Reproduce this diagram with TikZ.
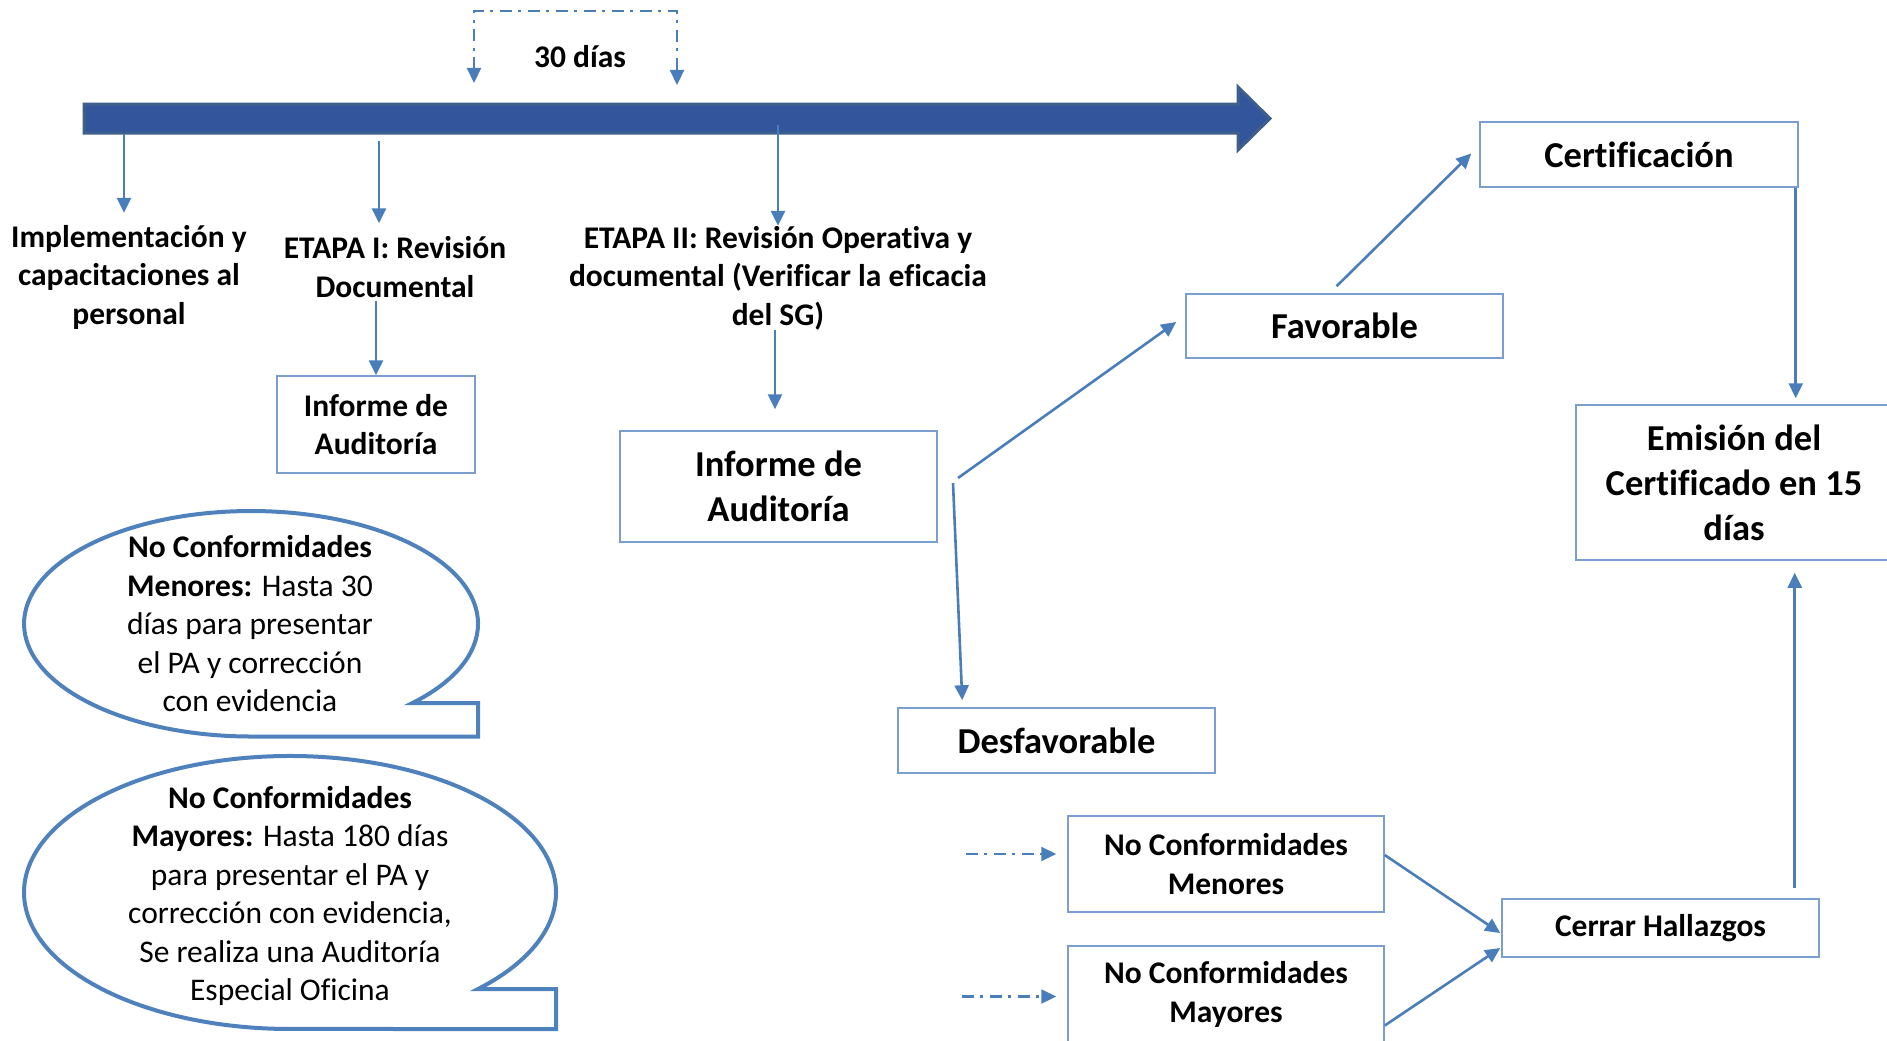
\documentclass[tikz,border=0pt]{standalone}
\usepackage{fontspec}
\setmainfont{Carlito}[Ligatures=CommonOff]
\usetikzlibrary{arrows.meta,positioning}
\definecolor{lineblue}{HTML}{4A7EBB}
\definecolor{boxblue}{HTML}{7A9FCF}
\definecolor{bubblue}{HTML}{4F81BD}
\definecolor{barfill}{HTML}{32559C}
\definecolor{barline}{HTML}{3E5F8A}
\newcommand{\txtS}{\fontsize{31.5}{38.5}\selectfont}
\newcommand{\txtL}{\fontsize{36.5}{45}\selectfont}

\begin{document}
\begin{tikzpicture}[x=1pt,y=-1pt,
	tip/.style={-{Triangle[width=14pt,length=15pt]}},
	conn/.style={draw=lineblue,line width=2.6pt,tip},
	dconn/.style={draw=lineblue,line width=2.2pt,dash pattern=on 12pt off 6pt on 3pt off 7pt},
	lbl/.style={font=\bfseries\txtS,align=center,inner sep=0pt},
	box/.style={draw=boxblue,line width=1.5pt,fill=white,align=center,inner sep=0pt,minimum width=317pt},
	bubble/.style={draw=bubblue,line width=4pt,fill=white},
	bubtxt/.style={font=\txtS,align=center,inner sep=0pt}]
				\useasboundingbox (0,0) rectangle (1887,1041);
				\filldraw[fill=barfill,draw=barline,line width=3pt] (84,104) -- (1238,104) -- (1238,87) -- (1270,118.5) -- (1238,150) -- (1238,133) -- (84,133) -- cycle;
				\coordinate (t1) at (124,134);
				\coordinate (t2) at (379,141);
				\coordinate (t3) at (778,125);
				\coordinate (d1) at (474,83);
				\coordinate (d2) at (677,85);
				\coordinate (fork) at (955,481);
				\draw[dconn,{Triangle[width=14pt,length=15pt]}-{Triangle[width=14pt,length=15pt]}] (d1) -- ++(0,-72) -| (d2);
				\node[lbl] (dias) at (580,56.5) {30 días};
				\node[lbl] (impl) at (129,277) {Implementación y\\capacitaciones al\\personal};
				\node[lbl] (etapa1) at (395,267) {ETAPA I: Revisión\\Documental};
				\node[lbl] (etapa2) at (778,278) {ETAPA II: Revisión Operativa y\\documental (Verificar la eficacia\\del SG)};
				\node[box,minimum width=198pt,minimum height=97pt,font=\bfseries\txtS] (inf1) at (376,424.5) {Informe de\\Auditoría};
				\node[box,minimum height=111pt,font=\bfseries\txtL] (inf2) at (778.5,486.5) {Informe de\\Auditoría};
				\node[box,minimum height=64pt,font=\bfseries\txtL] (fav) at (1344.5,326) {Favorable};
				\node[box,minimum height=65pt,font=\bfseries\txtL] (desf) at (1056.5,740.5) {Desfavorable};
				\node[box,minimum width=318pt,minimum height=65pt,font=\bfseries\txtL] (cert) at (1639,154.5) {Certificación};
				\node[box,minimum width=316pt,minimum height=155pt,font=\bfseries\txtL] (emis) at (1734,482.5) {Emisión del\\Certificado en 15\\días};
				\node[box,minimum width=316pt,minimum height=96pt,font=\bfseries\txtS] (ncmen) at (1226,864) {No Conformidades\\Menores};
				\node[box,minimum width=316pt,minimum height=97pt,font=\bfseries\txtS] (ncmay) at (1226,994.5) {No Conformidades\\Mayores};
				\node[box,minimum height=58pt,font=\bfseries\txtS] (cerrar) at (1660.5,928) {Cerrar Hallazgos};
				\draw[bubble] (412.1,703.2) arc[start angle=-44.8,end angle=270,x radius=227pt,y radius=112.75pt] -- (478,736.5) -- (478,703.2) -- cycle;
				\draw[bubble] (478.1,989) arc[start angle=-45,end angle=270,x radius=266pt,y radius=136.5pt] -- (556,1029) -- (556,989) -- cycle;
				\node[bubtxt] (nc1) at (250,624) {\textbf{No Conformidades}\\\textbf{Menores:} Hasta 30\\días para presentar\\el PA y corrección\\con evidencia};
				\node[bubtxt] (nc2) at (290,896) {\textbf{No Conformidades}\\\textbf{Mayores:} Hasta 180 días\\para presentar el PA y\\corrección con evidencia,\\Se realiza una Auditoría\\Especial Oficina};
				\draw[conn,shorten >=12pt] (t1) -- (t1 |- impl.north);
				\draw[conn,shorten >=13pt] (t2) -- (t2 |- etapa1.north);
				\draw[conn,shorten <=3pt] (etapa1.south -| inf1.north) -- (inf1.north);
				\draw[conn] (t3) -- (t3 |- etapa2.north);
				\draw[conn,shorten >=21pt] ([xshift=-3pt]etapa2.south) -- ([xshift=-3pt]etapa2.south |- inf2.north);
				\draw[conn] (fork) ++(3,-3) -- ([xshift=-9pt,yshift=4pt]fav.west);
				\draw[conn] (fork) ++(-2,2) -- ([xshift=65pt,yshift=7pt]desf.north west);
				\draw[conn] ([xshift=-8pt,yshift=7pt]fav.north) -- ([xshift=-8pt,yshift=1pt]cert.west);
				\draw[conn,shorten >=6pt] ([xshift=-3pt]cert.south east) -- ([xshift=-3pt]cert.south east |- emis.north);
				\draw[conn,shorten <=10pt,shorten >=12pt] ([xshift=-25pt]cerrar.north east) -- ([xshift=-25pt]cerrar.north east |- emis.south);
				\draw[conn] ([yshift=9pt]ncmen.east) -- ([xshift=-1pt,yshift=-5pt]cerrar.west);
				\draw[conn] ([yshift=-31pt]ncmay.east) -- ([xshift=-1pt,yshift=-20pt]cerrar.west);
				\draw[dconn,tip] ([xshift=-101pt,yshift=10pt]ncmen.west) -- ([xshift=-11pt,yshift=10pt]ncmen.west);
				\draw[dconn,tip] ([xshift=-105pt,yshift=-2pt]ncmay.west) -- ([xshift=-11pt,yshift=-2pt]ncmay.west);
			\end{tikzpicture}
\end{document}
